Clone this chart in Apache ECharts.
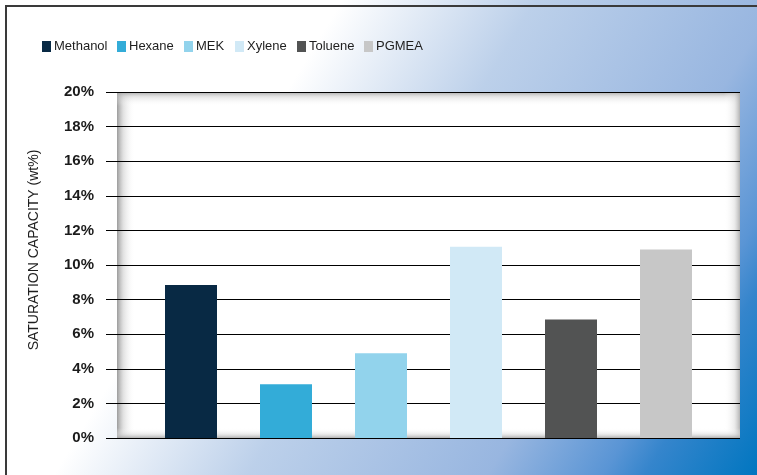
<!DOCTYPE html>
<html>
<head>
<meta charset="utf-8">
<script src="https://cdn.jsdelivr.net/npm/echarts@6/dist/echarts.min.js"></script>
<style>
html,body{margin:0;padding:0;background:#fff;}
#chart{width:757px;height:475px;}
</style>
</head>
<body>
<div id="chart"></div>
<script>
// ---- data ----
const categories = ['Methanol', 'Hexane', 'MEK', 'Xylene', 'Toluene', 'PGMEA'];
const values = [8.85, 3.1, 4.9, 11.05, 6.85, 10.9];
const barColors = ['#082944', '#33acd8', '#92d3ec', '#d1e9f6', '#525353', '#c7c7c7'];
const yAxisTitle = 'SATURATION CAPACITY (wt%)';
const yMin = 0, yMax = 20, yStep = 2;

// ---- layout ----
const W = 757, H = 475;
const plotTop = 92, plotBottom = 438;
const lineLeft = 106, lineRight = 740;
const frameLeft = 117;
const barsLeft = 143.5, barsRight = 713.5;
const legendIconX = [42, 117, 184, 235, 297, 364];

const chart = echarts.init(document.getElementById('chart'), null, {renderer: 'canvas'});

const series = categories.map((name, i) => ({
  name: name,
  type: 'bar',
  xAxisIndex: 1,
  yAxisIndex: 1,
  stack: 'all',
  barWidth: 52,
  itemStyle: {color: barColors[i]},
  data: categories.map((c, j) => (j === i ? values[i] : '-')),
  z: 5
}));

const legends = categories.map((name, i) => ({
  data: [name],
  left: legendIconX[i],
  top: 40,
  padding: 0,
  icon: 'rect',
  itemWidth: 9,
  itemHeight: 11,
  textStyle: {
    fontFamily: '"Liberation Sans", Arial, sans-serif',
    fontSize: 13,
    color: '#1e1e1e',
    padding: [0, 0, 0, -2]
  }
}));

const option = {
  animation: false,
  backgroundColor: 'transparent',
  graphic: [
    {
      type: 'rect', z: -20, silent: true,
      shape: {x: 0, y: 0, width: W, height: H},
      style: {
        fill: {
          type: 'linear', global: true,
          x: 250, y: 152, x2: 764, y2: 464,
          colorStops: [
            {offset: 0, color: '#ffffff'},
            {offset: 0.275, color: '#bcd0ea'},
            {offset: 0.617, color: '#98b6e0'},
            {offset: 0.78, color: '#5a95d5'},
            {offset: 0.84, color: '#3585cc'},
            {offset: 1, color: '#0076c0'}
          ]
        }
      }
    },
    // plot frame
    {
      type: 'rect', z: -15, silent: true,
      shape: {x: frameLeft, y: plotTop, width: lineRight - frameLeft, height: plotBottom - plotTop},
      style: {fill: '#ffffff'}
    },
    {
      type: 'rect', z: -14, silent: true,
      shape: {x: frameLeft, y: plotTop, width: 18, height: plotBottom - plotTop},
      style: {fill: {type: 'linear', x: 0, y: 0, x2: 1, y2: 0, colorStops: [
        {offset: 0, color: 'rgba(150,150,150,0.95)'}, {offset: 0.35, color: 'rgba(195,195,195,0.5)'}, {offset: 1, color: 'rgba(255,255,255,0)'}]}}
    },
    {
      type: 'rect', z: -14, silent: true,
      shape: {x: frameLeft, y: plotTop, width: lineRight - frameLeft, height: 14},
      style: {fill: {type: 'linear', x: 0, y: 0, x2: 0, y2: 1, colorStops: [
        {offset: 0, color: 'rgba(160,160,160,0.9)'}, {offset: 0.35, color: 'rgba(200,200,200,0.45)'}, {offset: 1, color: 'rgba(255,255,255,0)'}]}}
    },
    {
      type: 'rect', z: -14, silent: true,
      shape: {x: lineRight - 16, y: plotTop, width: 16, height: plotBottom - plotTop},
      style: {fill: {type: 'linear', x: 0, y: 0, x2: 1, y2: 0, colorStops: [
        {offset: 0, color: 'rgba(255,255,255,0)'}, {offset: 0.65, color: 'rgba(215,215,215,0.5)'}, {offset: 1, color: 'rgba(170,170,170,0.9)'}]}}
    },
    {
      type: 'rect', z: -14, silent: true,
      shape: {x: frameLeft, y: plotBottom - 10, width: lineRight - frameLeft, height: 10},
      style: {fill: {type: 'linear', x: 0, y: 0, x2: 0, y2: 1, colorStops: [
        {offset: 0, color: 'rgba(255,255,255,0)'}, {offset: 0.6, color: 'rgba(215,215,215,0.5)'}, {offset: 1, color: 'rgba(170,170,170,0.9)'}]}}
    },
    // outer border
    {
      type: 'polyline', z: 20, silent: true,
      shape: {points: [[6, H], [6, 6], [W, 6]]},
      style: {stroke: '#3a3a3a', lineWidth: 2, fill: null}
    },
    // y-axis title
    {
      type: 'text', z: 20, silent: true,
      x: 34, y: 250, rotation: Math.PI / 2,
      style: {
        text: yAxisTitle,
        font: '14px "Liberation Sans", Arial, sans-serif',
        fill: '#1e1e1e',
        align: 'center',
        verticalAlign: 'middle'
      }
    }
  ],
  legend: legends,
  grid: [
    {left: lineLeft, right: W - lineRight, top: plotTop, bottom: H - plotBottom, containLabel: false},
    {left: barsLeft, right: W - barsRight, top: plotTop, bottom: H - plotBottom, containLabel: false}
  ],
  xAxis: [
    {type: 'category', gridIndex: 0, data: categories, show: false},
    {type: 'category', gridIndex: 1, data: categories, show: false}
  ],
  yAxis: [
    {
      type: 'value', gridIndex: 0, min: yMin, max: yMax, interval: yStep,
      axisLine: {show: false}, axisTick: {show: false},
      axisLabel: {
        formatter: '{value}%', margin: 12,
        fontFamily: '"Liberation Sans", Arial, sans-serif',
        fontSize: 15, fontWeight: 'bold', color: '#1b1b1b'
      },
      splitLine: {show: true, lineStyle: {color: '#000000', width: 1}},
      z: 3
    },
    {
      type: 'value', gridIndex: 1, min: yMin, max: yMax, interval: yStep, show: false,
      splitLine: {show: false}
    }
  ],
  series: series
};

chart.setOption(option);
</script>
</body>
</html>
